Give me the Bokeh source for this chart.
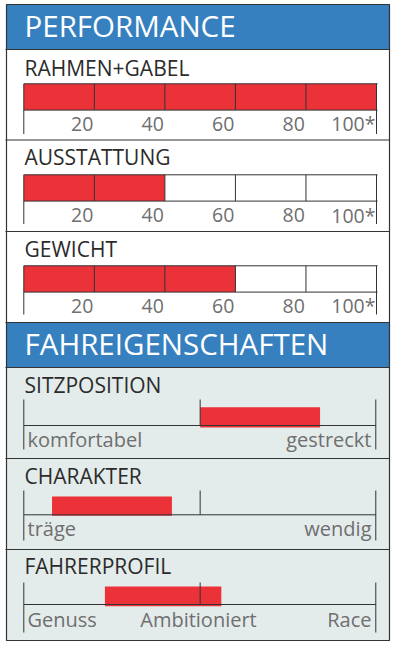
from bokeh.plotting import figure
from bokeh.models import Range1d
from bokeh.core.properties import value
from bokeh.embed import file_html
from bokeh.resources import INLINE

# ---------------- data ----------------
section_titles = ["PERFORMANCE", "FAHREIGENSCHAFTEN"]

perf_titles = ["RAHMEN+GABEL", "AUSSTATTUNG", "GEWICHT"]
perf_values = [100, 40, 60]
perf_ticks = [20, 40, 60, 80, 100]
perf_tick_labels = ["20", "40", "60", "80", "100*"]

ride_titles = ["SITZPOSITION", "CHARAKTER", "FAHRERPROFIL"]
ride_start = [50, 8, 23]
ride_end = [84, 42, 56]
ride_left_labels = ["komfortabel", "träge", "Genuss"]
ride_mid_labels = ["", "", "Ambitioniert"]
ride_right_labels = ["gestreckt", "wendig", "Race"]

# ---------------- style / layout ----------------
FONT = value("Open Sans")
RED = "#ec3239"
BLUE = "#3680bf"
GREY_BG = "#e4ebeb"
DARK = "#333333"
LABEL = "#6f6f6f"
TITLE = "#2b2b2b"

HEAD_FS, TITLE_FS, TICK_FS, SCALE_FS = 29.5, 21, 19.5, 20

X0_PX = 23.3
PX_PER = 3.527


def ux(px):
    return (px - X0_PX) / PX_PER


def by(base, fs):
    # compensate baseline placement of svg text
    return base - 0.42 * fs


W, H = 395, 645
p = figure(width=W, height=H, x_range=Range1d(ux(0), ux(W)), y_range=Range1d(H, 0),
           output_backend="svg", toolbar_location=None, min_border=0,
           x_axis_location=None, y_axis_location=None)
p.grid.visible = False
p.outline_line_color = None
p.background_fill_color = "white"
p.border_fill_color = "white"

FL, FR = ux(6), ux(389)
# panel backgrounds
p.quad(left=[FL], right=[FR], top=[4], bottom=[640], fill_color="white", line_color=None)
p.quad(left=[FL], right=[FR], top=[367], bottom=[640], fill_color=GREY_BG, line_color=None)
p.quad(left=[FL, FL], right=[FR, FR], top=[4, 322], bottom=[49, 367], fill_color=BLUE, line_color=None)

# headers
p.text(x=[ux(24), ux(24)], y=[by(37.5, HEAD_FS), by(355.5, HEAD_FS)], text=section_titles, text_font=FONT,
       text_font_size=f"{HEAD_FS}px", text_color="white", text_baseline="alphabetic", text_align="left")

# separators and frame
sep_y = [49, 139.5, 231, 322, 367, 458, 549]
p.segment(x0=[ux(5)] * len(sep_y), x1=[FR] * len(sep_y), y0=sep_y, y1=sep_y,
          line_color=DARK, line_width=1.2)
p.quad(left=[FL], right=[FR], top=[4], bottom=[640], fill_color=None, line_color=DARK, line_width=1.2)

# ---------------- performance rows ----------------
perf_title_base = [76, 165, 257]
perf_bar_top = [83.3, 174.3, 265.3]
perf_bar_h = 26.3
perf_label_base = [131.5, 222.7, 313.3]
perf_line_bottom = [133.5, 223.5, 314]

for i, (t, v) in enumerate(zip(perf_titles, perf_values)):
    top = perf_bar_top[i]
    bot = top + perf_bar_h
    p.text(x=[ux(24)], y=[by(perf_title_base[i], TITLE_FS)], text=[t], text_font=FONT,
           text_font_size=f"{TITLE_FS}px", text_color=TITLE, text_baseline="alphabetic")
    p.quad(left=[0], right=[v], top=[top], bottom=[bot], fill_color=RED, line_color=None)
    # box lines
    p.segment(x0=[0, 0], x1=[100.3, 100.3], y0=[top, bot], y1=[top, bot], line_color=DARK, line_width=1)
    p.segment(x0=perf_ticks, x1=perf_ticks, y0=[top] * len(perf_ticks), y1=[bot] * len(perf_ticks),
              line_color=DARK, line_width=1)
    p.segment(x0=[0, 100], x1=[0, 100], y0=[top, top], y1=[perf_line_bottom[i]] * 2,
              line_color=DARK, line_width=1)
    p.text(x=[tk - 0.3 for tk in perf_ticks], y=[by(perf_label_base[i], TICK_FS)] * len(perf_ticks),
           text=perf_tick_labels, text_font=FONT, text_font_size=f"{TICK_FS}px", text_color=LABEL,
           text_align="right", text_baseline="alphabetic")

# ---------------- ride characteristic rows ----------------
ride_title_base = [393, 484, 574]
ride_tick_top = [399, 490, 582]
ride_base = [425, 514.3, 604]
ride_bar_top = [406.7, 496, 586]
ride_bar_bottom = [427, 515.3, 605.8]
ride_label_base = [447.7, 536, 627]
ride_line_bottom = [449, 540, 632]

for i, t in enumerate(ride_titles):
    p.text(x=[ux(24)], y=[by(ride_title_base[i], TITLE_FS)], text=[t], text_font=FONT,
           text_font_size=f"{TITLE_FS}px", text_color=TITLE, text_baseline="alphabetic")
    p.quad(left=[ride_start[i]], right=[ride_end[i]], top=[ride_bar_top[i]], bottom=[ride_bar_bottom[i]],
           fill_color=RED, line_color=None)
    p.segment(x0=[0], x1=[99.8], y0=[ride_base[i]], y1=[ride_base[i]], line_color=DARK, line_width=1)
    p.segment(x0=[0, 99.8], x1=[0, 99.8], y0=[ride_tick_top[i]] * 2, y1=[ride_line_bottom[i]] * 2,
              line_color=DARK, line_width=1)
    p.segment(x0=[50], x1=[50], y0=[ride_tick_top[i]], y1=[ride_base[i]], line_color=DARK, line_width=1)
    yb = by(ride_label_base[i], SCALE_FS)
    p.text(x=[ux(27)], y=[yb], text=[ride_left_labels[i]], text_font=FONT,
           text_font_size=f"{SCALE_FS}px", text_color=LABEL, text_align="left", text_baseline="alphabetic")
    p.text(x=[ux(371)], y=[yb], text=[ride_right_labels[i]], text_font=FONT,
           text_font_size=f"{SCALE_FS}px", text_color=LABEL, text_align="right", text_baseline="alphabetic")
    if ride_mid_labels[i]:
        p.text(x=[ux(198)], y=[yb], text=[ride_mid_labels[i]], text_font=FONT,
               text_font_size=f"{SCALE_FS}px", text_color=LABEL, text_align="center", text_baseline="alphabetic")

open("out.html", "w").write(file_html(p, INLINE))
